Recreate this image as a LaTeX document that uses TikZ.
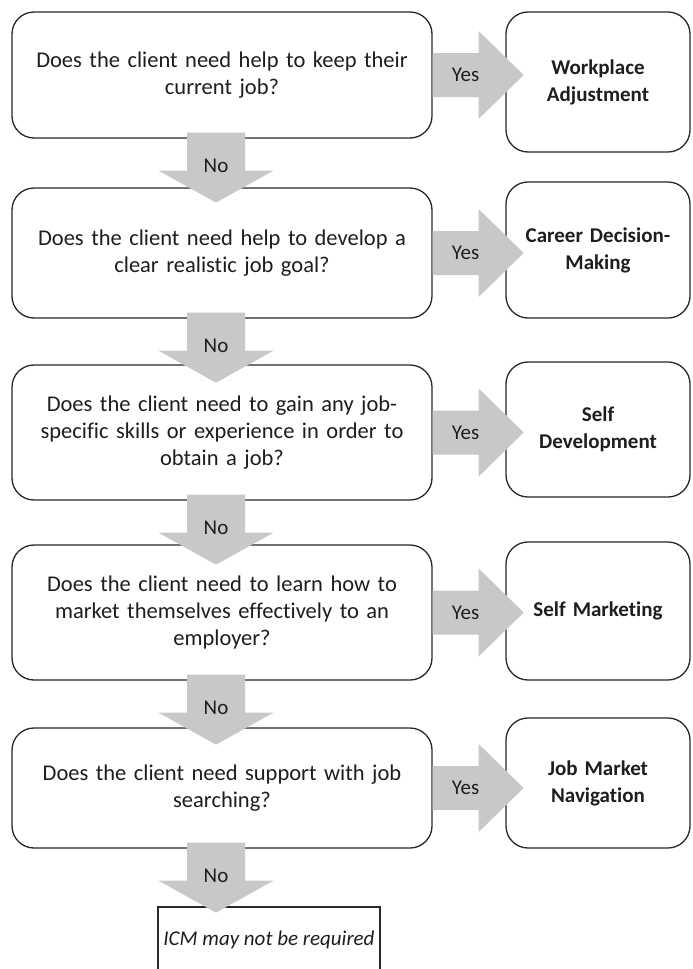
\documentclass[tikz,border=0pt]{standalone}
\usepackage{fontspec}
\setmainfont{Carlito}[Ligatures={NoCommon}]
\usetikzlibrary{calc}
\definecolor{arr}{RGB}{200,200,200}
\definecolor{ln}{RGB}{40,40,40}
\definecolor{tx}{RGB}{30,30,30}
\newcommand{\yesarr}[2]{%
 \fill[arr] ($(#1.east)+(0,-22)$) -- ++(46,0) -- ++(0,-22) -- ($(#1.east)+(91,0)$) -- ($(#1.east)+(46,44)$) -- ++(0,-22) -- ++(-46,0) -- cycle;
 \node[lbl] (#2) at ($(#1.east)+(33,0)$) {Yes};}
\newcommand{\noarr}[2]{%
 \fill[arr] ($(#1.south)+(-35,-6)$) -- ++(58,0) -- ++(0,38) -- ++(28.5,0) -- ($(#1.south)+(-6,64)$) -- ($(#1.south)+(-63.5,32)$) -- ++(28.5,0) -- cycle;
 \node[lbl] (#2) at ($(#1.south)+(-6,27)$) {No};}
\begin{document}
\begin{tikzpicture}[x=1pt,y=-1pt,
 qbox/.style={draw=ln, line width=1.3pt, rounded corners=22pt, minimum width=420pt, align=center, text width=410pt, font=\fontsize{22.5}{27}\selectfont, text=tx, inner sep=0pt},
 abox/.style={draw=ln, line width=1.3pt, rounded corners=22pt, minimum width=184pt, align=center, text width=176pt, font=\fontsize{21}{27}\selectfont\bfseries, text=tx, inner sep=0pt},
 lbl/.style={font=\fontsize{21}{24}\selectfont, text=tx, inner sep=0pt}]
\useasboundingbox (0,0) rectangle (693,969);
\fill[white] (0,0) rectangle (693,969);

\node[qbox, minimum height=126pt] (q1) at (222,75) {Does the client need help to keep their\\current job?};
\node[abox, minimum height=140pt] (a1) at (598,82) {Workplace\\Adjustment};
\node[qbox, minimum height=130pt] (q2) at (222,253) {Does the client need help to develop a\\clear realistic job goal?};
\node[abox, minimum height=136pt] (a2) at (598,250) {Career Decision-\\Making};
\node[qbox, minimum height=135pt] (q3) at (222,432.5) {Does the client need to gain any job-\\specific skills or experience\ in order to\\obtain a job?};
\node[abox, minimum height=135pt] (a3) at (598,429.5) {Self\\Development};
\node[qbox, minimum height=135pt] (q4) at (222,612.5) {Does the client need to learn how to\\market themselves effectively to an\\employer?};
\node[abox, minimum height=138pt] (a4) at (598,611) {Self Marketing};
\node[qbox, minimum height=120pt] (q5) at (222,788) {Does the client need support with job\\searching?};
\node[abox, minimum height=130pt] (a5) at (598,783) {Job Market\\Navigation};
\node[draw=ln, line width=1.3pt, minimum width=222pt, minimum height=66pt, inner sep=0pt, font=\fontsize{21}{27}\selectfont\itshape, text=tx] (end) at (269,940) {ICM may not be required};

\yesarr{q1}{y1}
\yesarr{q2}{y2}
\yesarr{q3}{y3}
\yesarr{q4}{y4}
\yesarr{q5}{y5}
\noarr{q1}{n1}
\noarr{q2}{n2}
\noarr{q3}{n3}
\noarr{q4}{n4}
\noarr{q5}{n5}
\end{tikzpicture}
\end{document}
